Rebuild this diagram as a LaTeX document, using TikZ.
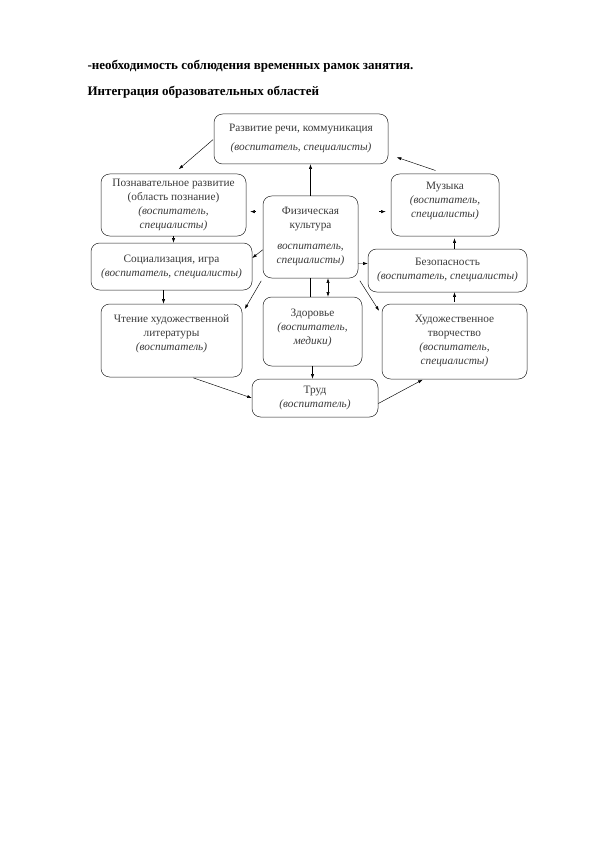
\documentclass[tikz,border=0pt]{standalone}
\usepackage{fontspec}
\setmainfont{Liberation Serif}
\usepackage{xcolor}
\definecolor{Ink}{HTML}{3A3A3A}
\definecolor{Edge}{HTML}{1E1E1E}
\usepackage{tikz}
\usetikzlibrary{arrows.meta,positioning,calc}

\begin{document}
\begin{tikzpicture}[
  x=1pt,y=-1pt,
  area/.style={rounded corners=3mm,draw=Edge,line width=.5pt,align=center,
    text=Ink,font=\fontsize{11.3}{14}\selectfont,inner sep=2pt},
  heading/.style={anchor=west,font=\fontsize{13}{15}\selectfont\bfseries},
  arr/.style={-{Latex[length=1.6mm,width=1.1mm]},line width=.45pt,draw=black},
  both/.style={{Latex[length=1.6mm,width=1.1mm]}-{Latex[length=1.6mm,width=1.1mm]},line width=.45pt,draw=black}
]
\fill[white] (0,0) rectangle (595,842);
\useasboundingbox (0,0) rectangle (595,842);
\node[heading] (need) at (84,66) {-необходимость соблюдения временных рамок занятия.};
\node[heading] (title) at (84,92) {Интеграция образовательных областей};
% areas
\node[area,minimum width=174pt,minimum height=50pt] (speech) at (301,139)
  {Развитие речи, коммуникация\\[5pt]\textit{(воспитатель, специалисты)}};
\node[area,minimum width=145pt,minimum height=62pt] (cogn) at (173.5,205)
  {Познавательное развитие\\(область познание)\\\textit{(воспитатель,}\\\textit{специалисты)}};
\node[area,minimum width=108pt,minimum height=62pt] (music) at (445,205)
  {Музыка\\\textit{(воспитатель,}\\\textit{специалисты)}\\[-3pt]\mbox{}};
\node[area,minimum width=95pt,minimum height=82pt] (phys) at (310.5,237)
  {Физическая\\культура\\[7pt]\textit{воспитатель,}\\\textit{специалисты)}};
\node[area,minimum width=161pt,minimum height=47pt] (social) at (171.5,266.5)
  {Социализация, игра\\\textit{(воспитатель, специалисты)}};
\node[area,minimum width=159pt,minimum height=43pt] (safety) at (447.5,270.5)
  {Безопасность\\\textit{(воспитатель, специалисты)}};
\node[area,minimum width=141pt,minimum height=73pt] (read) at (171.5,340.5)
  {Чтение художественной\\литературы\\\textit{(воспитатель)}\\[2pt]\mbox{}};
\node[area,minimum width=99pt,minimum height=69pt] (health) at (312.5,331.5)
  {Здоровье\\\textit{(воспитатель,}\\\textit{медики)}\\[-4pt]\mbox{}};
\node[area,minimum width=145pt,minimum height=75pt] (art) at (454.5,341.5)
  {Художественное\\творчество\\\textit{(воспитатель,}\\\textit{специалисты)}};
\node[area,minimum width=126pt,minimum height=38pt] (work) at (315,398)
  {Труд\\\textit{(воспитатель)}};
% links
\draw[arr,shorten <=1pt,shorten >=7pt] (speech.west) -- (cogn.north);
\draw[arr,shorten <=10pt,shorten >=9pt] (music.north) -- (speech.-10);
\draw[arr] (phys.north) -- (phys.north |- speech.south);
\draw[arr,shorten <=7pt,shorten >=4pt] (phys.152) -- (phys.152 -| cogn.east);
\draw[arr,shorten <=21pt,shorten >=5pt] (phys.28) -- (phys.28 -| music.west);
\draw[arr] (cogn.south) -- (cogn.south |- social.north);
\draw[arr] (phys.195) -- (social.6);
\draw[arr] (phys.-29) -- (safety.175);
\draw[arr,shorten >=2pt] (art.north |- safety.north) -- (art.north |- music.south);
\draw[arr,shorten <=2pt] (art.north) -- (art.north |- safety.south);
\draw[arr] ([xshift=-8pt]social.south) -- ([xshift=-8pt]social.south |- read.north);
\draw[arr,shorten <=3pt,shorten >=5pt] (phys.south west) -- (read.21);
\draw (phys.south) -- (phys.south |- health.north);
\draw[both] ($(phys.south)+(17.5,0)$) -- ($(phys.south |- health.north)+(17.5,0)$);
\draw[arr,shorten <=3pt,shorten >=5pt] (phys.south east) -- (art.160);
\draw[arr] (health.south) -- (health.south |- work.north);
\draw[arr,shorten <=2pt] ([xshift=20pt]read.south) -- (work.west);
\draw[arr,shorten >=1pt] (work.-5) -- ([xshift=-31pt]art.south);
\end{tikzpicture}
\end{document}
